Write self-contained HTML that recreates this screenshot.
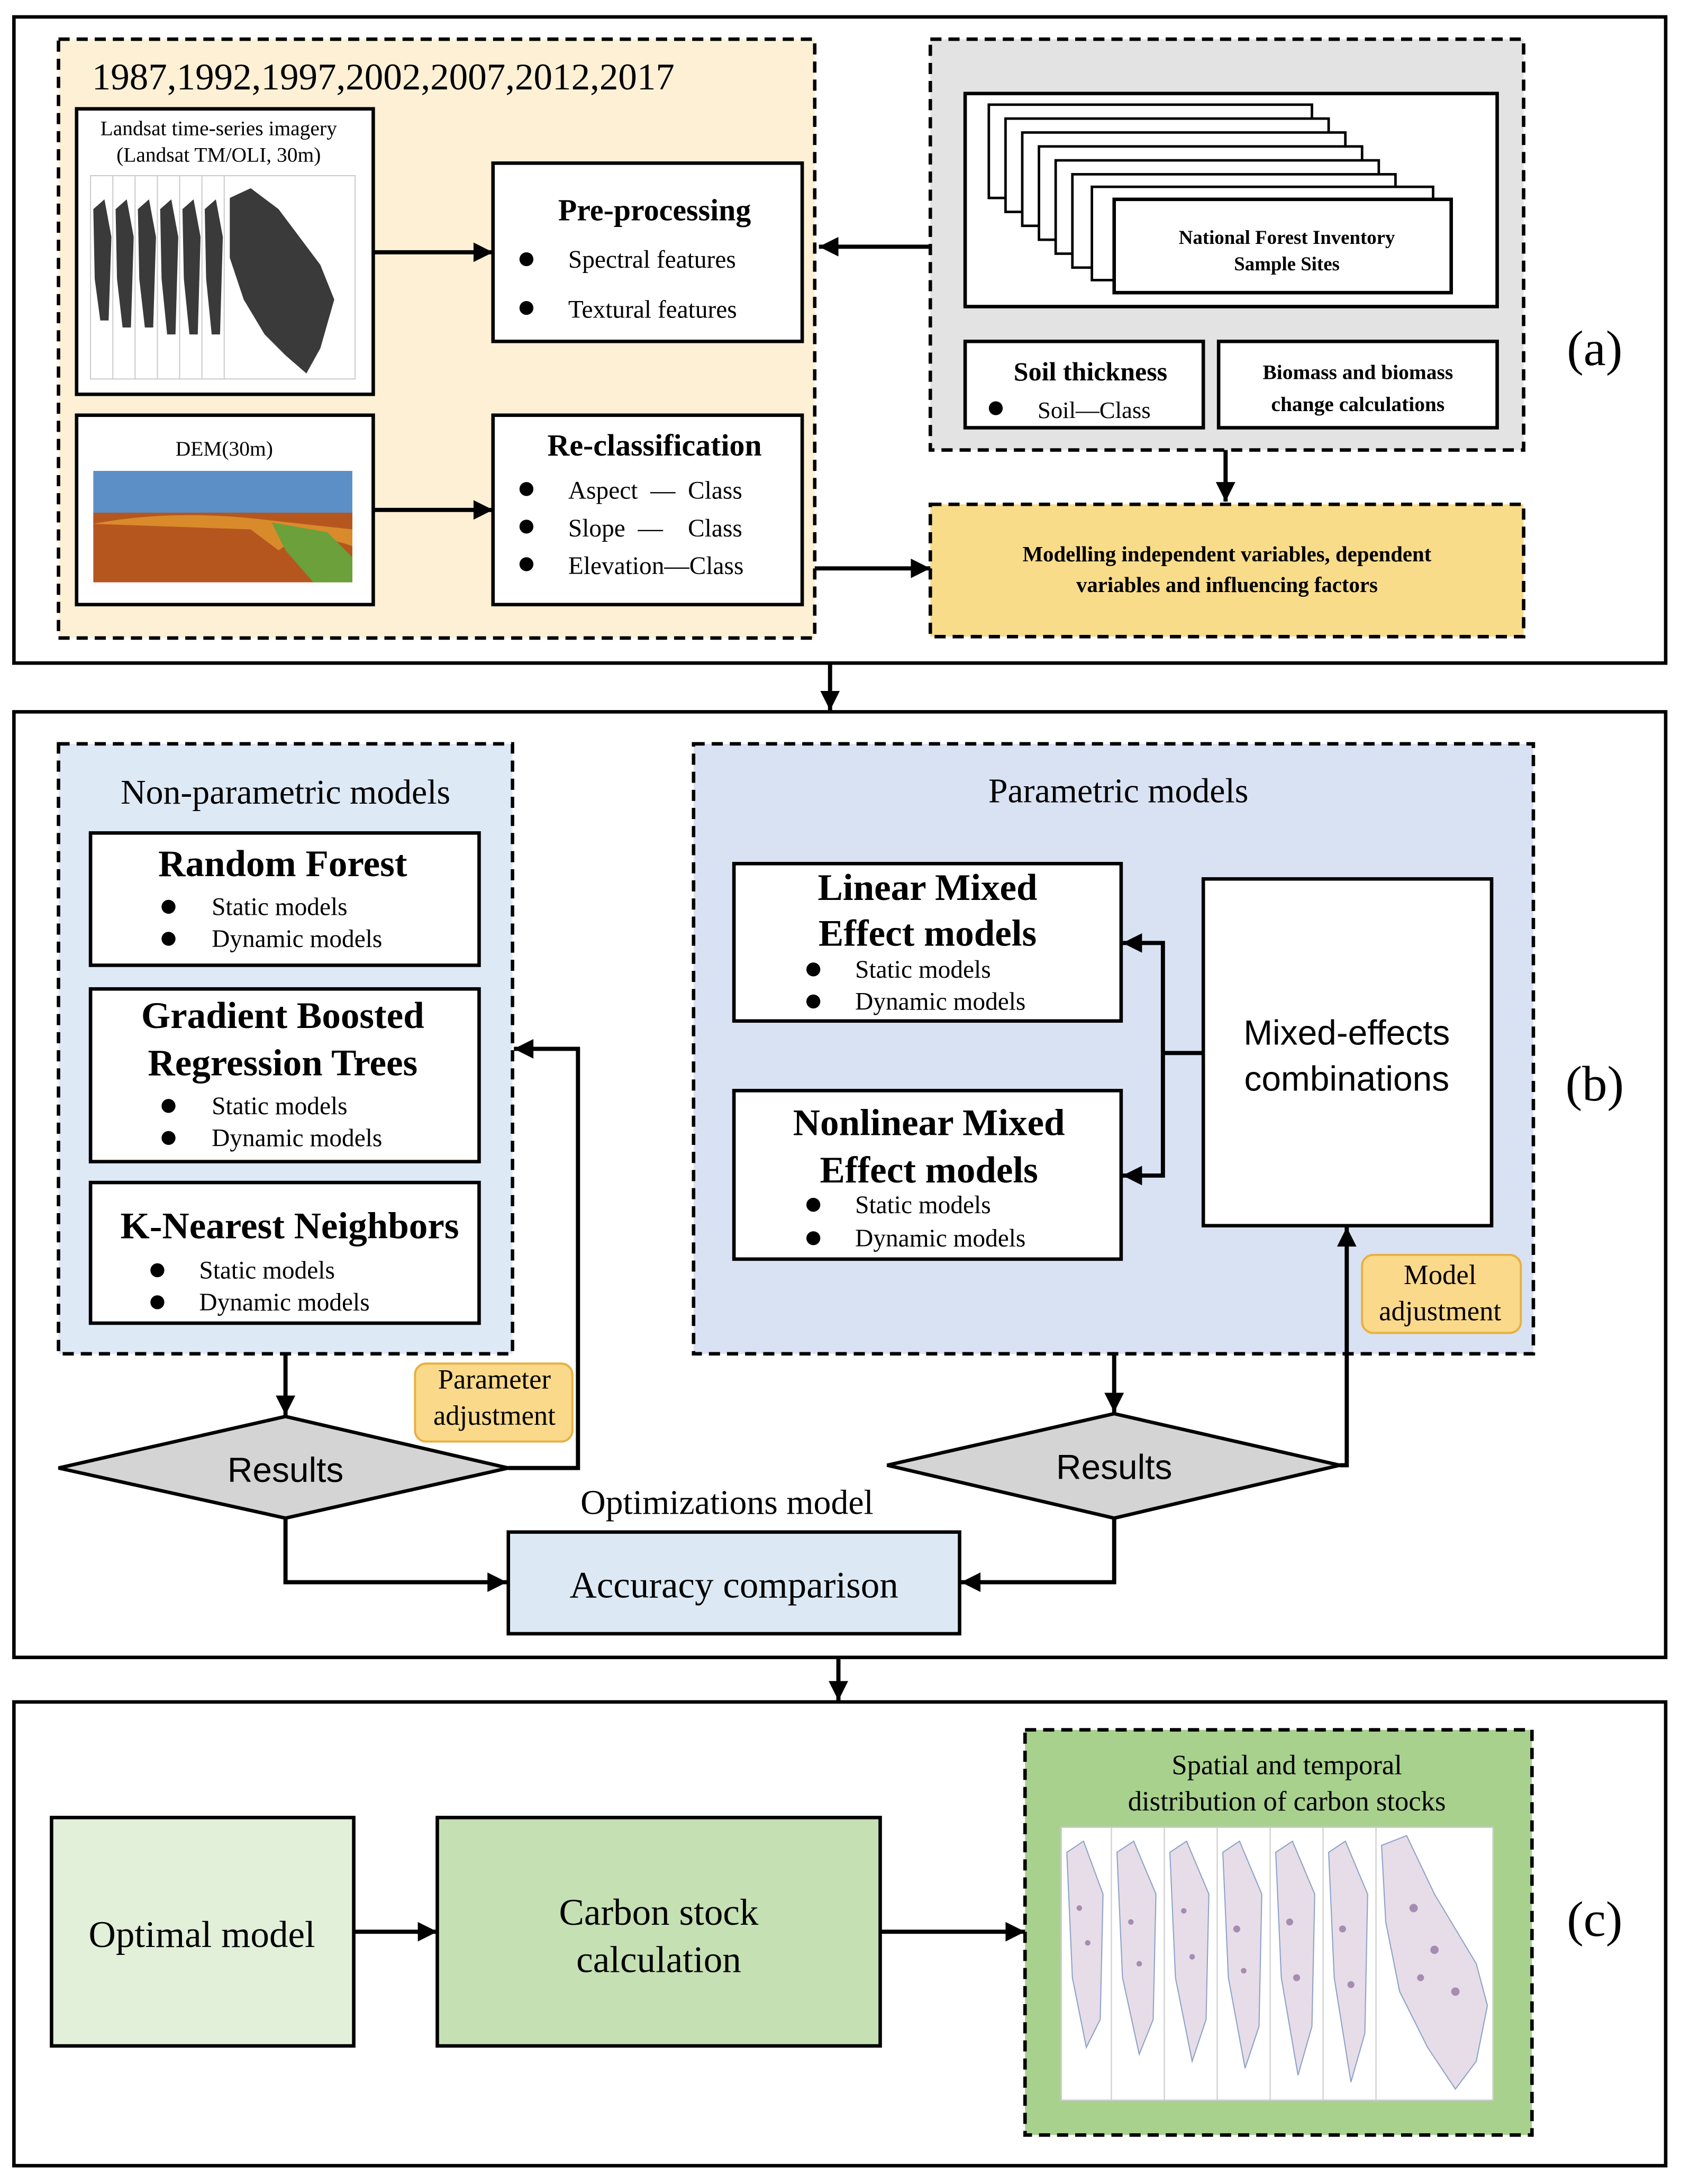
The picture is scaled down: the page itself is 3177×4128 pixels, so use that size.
<!DOCTYPE html>
<html><head><meta charset="utf-8"><style>html,body{margin:0;padding:0;background:#fff}svg{display:block}svg text{font-family:"Liberation Serif","DejaVu Serif",serif}svg text.s{font-family:"Liberation Sans","DejaVu Sans",sans-serif}</style></head>
<body>
<svg xmlns="http://www.w3.org/2000/svg" width="3177" height="4128" viewBox="0 0 1207 1568">
<defs>
<marker id="a2" viewBox="0 0 10 10" refX="10" refY="5" markerWidth="16" markerHeight="14" orient="auto" markerUnits="userSpaceOnUse"><path d="M0,0 L10,5 L0,10 z" fill="#000"/></marker>
</defs>
<rect width="1207" height="1568" fill="#fff"/>
<g stroke="#000" stroke-width="2.5" fill="none">
<rect x="10" y="12" width="1186" height="464"/>
<rect x="10" y="511" width="1186" height="679"/>
<rect x="10" y="1222" width="1186" height="333"/>
</g>
<!-- (a) -->
<rect x="42" y="28" width="543" height="430" fill="#fdf0d5" stroke="#000" stroke-width="2.5" stroke-dasharray="8,5"/>
<text x="66" y="64" font-size="27">1987,1992,1997,2002,2007,2012,2017</text>
<rect x="55" y="78" width="213" height="205" fill="#fff" stroke="#000" stroke-width="2.5"/>
<text x="157" y="97" font-size="15" text-anchor="middle">Landsat time-series imagery</text>
<text x="157" y="116" font-size="15" text-anchor="middle">(Landsat TM/OLI, 30m)</text>
<g stroke="#ccc" stroke-width="0.8" fill="#fff">
<rect x="65" y="126" width="190" height="146"/>
<line x1="81" y1="126" x2="81" y2="272"/><line x1="97" y1="126" x2="97" y2="272"/><line x1="113" y1="126" x2="113" y2="272"/><line x1="129" y1="126" x2="129" y2="272"/><line x1="145" y1="126" x2="145" y2="272"/><line x1="161" y1="126" x2="161" y2="272"/>
</g>
<g fill="#3a3a3a">
<path d="M67,150 L75,143 L80,170 L78,230 L72,230 L68,200 z"/>
<path d="M83,150 L91,143 L96,170 L94,235 L88,235 L84,200 z"/>
<path d="M99,150 L107,143 L112,170 L110,235 L104,235 L100,200 z"/>
<path d="M115,150 L123,143 L128,170 L126,240 L120,240 L116,200 z"/>
<path d="M131,150 L139,143 L144,170 L142,240 L136,240 L132,200 z"/>
<path d="M147,150 L155,143 L160,170 L158,240 L152,240 L148,200 z"/>
<path d="M165,142 L180,135 L200,150 L230,190 L240,215 L230,250 L220,268 L205,255 L190,240 L175,215 L165,185 z"/>
</g>
<rect x="354" y="117" width="222" height="128" fill="#fff" stroke="#000" stroke-width="2.5"/>
<text x="470" y="158" font-size="22" font-weight="bold" text-anchor="middle">Pre-processing</text>
<circle cx="378" cy="186" r="5"/><text x="408" y="192" font-size="18">Spectral features</text>
<circle cx="378" cy="221" r="5"/><text x="408" y="228" font-size="18">Textural features</text>
<rect x="55" y="298" width="213" height="136" fill="#fff" stroke="#000" stroke-width="2.5"/>
<text x="161" y="327" font-size="15" text-anchor="middle">DEM(30m)</text>
<rect x="67" y="338" width="186" height="42" fill="#5b8fc6"/>
<rect x="67" y="368" width="186" height="50" fill="#b6561f"/>
<path d="M67,376 Q120,366 180,372 L253,380 L253,392 Q220,380 200,395 L180,380 z" fill="#d98b2c"/>
<path d="M195,375 L235,382 L253,400 L253,418 L225,418 L205,395 z" fill="#6ba03a"/>
<rect x="354" y="298" width="222" height="136" fill="#fff" stroke="#000" stroke-width="2.5"/>
<text x="470" y="327" font-size="22" font-weight="bold" text-anchor="middle">Re-classification</text>
<circle cx="378" cy="351" r="5"/><text x="408" y="358" font-size="18" xml:space="preserve">Aspect  —  Class</text>
<circle cx="378" cy="378" r="5"/><text x="408" y="385" font-size="18" xml:space="preserve">Slope  —    Class</text>
<circle cx="378" cy="405" r="5"/><text x="408" y="412" font-size="18">Elevation—Class</text>
<rect x="668" y="28" width="426" height="295" fill="#e3e3e3" stroke="#000" stroke-width="2.5" stroke-dasharray="8,5"/>
<rect x="693" y="67" width="382" height="153" fill="#fff" stroke="#000" stroke-width="2.5"/>
<g fill="#fff" stroke="#000" stroke-width="1.8">
<rect x="710" y="75" width="232" height="67"/>
<rect x="722" y="85" width="232" height="67"/>
<rect x="734" y="95" width="232" height="67"/>
<rect x="746" y="105" width="232" height="67"/>
<rect x="758" y="115" width="232" height="67"/>
<rect x="770" y="125" width="232" height="67"/>
<rect x="784" y="134" width="245" height="67"/>
<rect x="800" y="143" width="242" height="67" stroke-width="2.5"/>
</g>
<text x="924" y="175" font-size="14" font-weight="bold" text-anchor="middle">National Forest Inventory</text>
<text x="924" y="194" font-size="14" font-weight="bold" text-anchor="middle">Sample Sites</text>
<rect x="693" y="245" width="171" height="62" fill="#fff" stroke="#000" stroke-width="2.5"/>
<text x="783" y="273" font-size="19" font-weight="bold" text-anchor="middle">Soil thickness</text>
<circle cx="715" cy="293" r="5"/><text x="745" y="300" font-size="17">Soil—Class</text>
<rect x="875" y="245" width="200" height="62" fill="#fff" stroke="#000" stroke-width="2.5"/>
<text x="975" y="272" font-size="15" font-weight="bold" text-anchor="middle">Biomass and biomass</text>
<text x="975" y="295" font-size="15" font-weight="bold" text-anchor="middle">change calculations</text>
<rect x="668" y="362" width="426" height="95" fill="#f9dc8a" stroke="#000" stroke-width="2.5" stroke-dasharray="8,5"/>
<text x="881" y="403" font-size="15.5" font-weight="bold" text-anchor="middle">Modelling independent variables, dependent</text>
<text x="881" y="425" font-size="15.5" font-weight="bold" text-anchor="middle">variables and influencing factors</text>
<text x="1145" y="262" font-size="36" text-anchor="middle">(a)</text>
<g stroke="#000" stroke-width="3" fill="none" marker-end="url(#a2)">
<line x1="268" y1="181" x2="354" y2="181"/>
<line x1="268" y1="366" x2="354" y2="366"/>
<line x1="668" y1="177" x2="588" y2="177"/>
<line x1="880" y1="323" x2="880" y2="360"/>
<line x1="585" y1="408" x2="668" y2="408"/>
<line x1="596" y1="476" x2="596" y2="510"/>
<line x1="602" y1="1190" x2="602" y2="1221"/>
</g>
<!-- (b) -->
<rect x="42" y="534" width="326" height="438" fill="#dde9f5" stroke="#000" stroke-width="2.5" stroke-dasharray="8,5"/>
<text x="205" y="577" font-size="25" text-anchor="middle">Non-parametric models</text>
<rect x="65" y="598" width="279" height="95" fill="#fff" stroke="#000" stroke-width="2.5"/>
<text x="203" y="629" font-size="27" font-weight="bold" text-anchor="middle">Random Forest</text>
<circle cx="121" cy="651" r="5"/><text x="152" y="657" font-size="18">Static models</text>
<circle cx="121" cy="674" r="5"/><text x="152" y="680" font-size="18">Dynamic models</text>
<rect x="65" y="710" width="279" height="124" fill="#fff" stroke="#000" stroke-width="2.5"/>
<text x="203" y="738" font-size="27" font-weight="bold" text-anchor="middle">Gradient Boosted</text>
<text x="203" y="772" font-size="27" font-weight="bold" text-anchor="middle">Regression Trees</text>
<circle cx="121" cy="794" r="5"/><text x="152" y="800" font-size="18">Static models</text>
<circle cx="121" cy="817" r="5"/><text x="152" y="823" font-size="18">Dynamic models</text>
<rect x="65" y="849" width="279" height="101" fill="#fff" stroke="#000" stroke-width="2.5"/>
<text x="208" y="889" font-size="27" font-weight="bold" text-anchor="middle">K-Nearest Neighbors</text>
<circle cx="113" cy="912" r="5"/><text x="143" y="918" font-size="18">Static models</text>
<circle cx="113" cy="935" r="5"/><text x="143" y="941" font-size="18">Dynamic models</text>
<rect x="498" y="534" width="603" height="438" fill="#d9e2f2" stroke="#000" stroke-width="2.5" stroke-dasharray="8,5"/>
<text x="803" y="576" font-size="25" text-anchor="middle">Parametric models</text>
<rect x="527" y="620" width="278" height="113" fill="#fff" stroke="#000" stroke-width="2.5"/>
<text x="666" y="646" font-size="27" font-weight="bold" text-anchor="middle">Linear Mixed</text>
<text x="666" y="679" font-size="27" font-weight="bold" text-anchor="middle">Effect models</text>
<circle cx="584" cy="696" r="5"/><text x="614" y="702" font-size="18">Static models</text>
<circle cx="584" cy="719" r="5"/><text x="614" y="725" font-size="18">Dynamic models</text>
<rect x="527" y="783" width="278" height="121" fill="#fff" stroke="#000" stroke-width="2.5"/>
<text x="667" y="815" font-size="27" font-weight="bold" text-anchor="middle">Nonlinear Mixed</text>
<text x="667" y="849" font-size="27" font-weight="bold" text-anchor="middle">Effect models</text>
<circle cx="584" cy="865" r="5"/><text x="614" y="871" font-size="18">Static models</text>
<circle cx="584" cy="889" r="5"/><text x="614" y="895" font-size="18">Dynamic models</text>
<rect x="864" y="631" width="207" height="249" fill="#fff" stroke="#000" stroke-width="2.5"/>
<text class="s" x="967" y="750" font-size="25" text-anchor="middle">Mixed-effects</text>
<text class="s" x="967" y="783" font-size="25" text-anchor="middle">combinations</text>
<rect x="978" y="901" width="114" height="56" rx="8" fill="#fbd98a" stroke="#e8b040" stroke-width="1.5"/>
<text x="1034" y="922" font-size="20" text-anchor="middle">Model</text>
<text x="1034" y="948" font-size="20" text-anchor="middle">adjustment</text>
<rect x="298" y="979" width="113" height="56" rx="8" fill="#fbd98a" stroke="#e8b040" stroke-width="1.5"/>
<text x="355" y="997" font-size="20" text-anchor="middle">Parameter</text>
<text x="355" y="1023" font-size="20" text-anchor="middle">adjustment</text>
<polygon points="42,1054 205,1017 365,1054 205,1090" fill="#d4d4d4" stroke="#000" stroke-width="2.5"/>
<text class="s" x="205" y="1064" font-size="25" text-anchor="middle">Results</text>
<polygon points="637,1052 800,1015 962,1052 800,1090" fill="#d4d4d4" stroke="#000" stroke-width="2.5"/>
<text class="s" x="800" y="1062" font-size="25" text-anchor="middle">Results</text>
<text x="522" y="1087" font-size="25" text-anchor="middle">Optimizations model</text>
<rect x="365" y="1100" width="324" height="73" fill="#dce9f5" stroke="#000" stroke-width="2.5"/>
<text x="527" y="1147" font-size="27" text-anchor="middle">Accuracy comparison</text>
<text x="1145" y="790" font-size="36" text-anchor="middle">(b)</text>
<g stroke="#000" stroke-width="3" fill="none" marker-end="url(#a2)">
<line x1="864" y1="756" x2="835" y2="756" marker-end="none"/>
<polyline points="835,756 835,677 806,677"/>
<polyline points="835,756 835,844 806,844"/>
<polyline points="365,1054 415,1054 415,753 369,753"/>
<line x1="205" y1="972" x2="205" y2="1016"/>
<line x1="800" y1="972" x2="800" y2="1014"/>
<polyline points="962,1052 967,1052 967,881"/>
<polyline points="205,1090 205,1136 364,1136"/>
<polyline points="800,1090 800,1136 690,1136"/>
</g>
<!-- (c) -->
<rect x="37" y="1305" width="217" height="164" fill="#e2efd9" stroke="#000" stroke-width="2.5"/>
<text x="145" y="1398" font-size="27" text-anchor="middle">Optimal model</text>
<rect x="314" y="1305" width="318" height="164" fill="#c5e0b3" stroke="#000" stroke-width="2.5"/>
<text x="473" y="1382" font-size="27" text-anchor="middle">Carbon stock</text>
<text x="473" y="1416" font-size="27" text-anchor="middle">calculation</text>
<rect x="736" y="1242" width="364" height="291" fill="#a9d18e" stroke="#000" stroke-width="2.5" stroke-dasharray="8,5"/>
<text x="924" y="1274" font-size="20" text-anchor="middle">Spatial and temporal</text>
<text x="924" y="1300" font-size="20" text-anchor="middle">distribution of carbon stocks</text>
<rect x="762" y="1312" width="310" height="196" fill="#fff" stroke="#ccc"/>
<g stroke="#ccc" stroke-width="0.8"><line x1="798" y1="1312" x2="798" y2="1508"/><line x1="836" y1="1312" x2="836" y2="1508"/><line x1="874" y1="1312" x2="874" y2="1508"/><line x1="912" y1="1312" x2="912" y2="1508"/><line x1="950" y1="1312" x2="950" y2="1508"/><line x1="988" y1="1312" x2="988" y2="1508"/></g>
<g fill="#e6dde8" stroke="#8fa3c8" stroke-width="0.8">
<path d="M766,1330 L778,1322 L792,1360 L790,1450 L780,1470 L770,1420 z"/>
<path d="M802,1330 L814,1322 L830,1360 L828,1450 L818,1475 L806,1420 z"/>
<path d="M840,1330 L852,1322 L868,1360 L866,1450 L856,1480 L844,1420 z"/>
<path d="M878,1330 L890,1322 L906,1360 L904,1455 L894,1485 L882,1420 z"/>
<path d="M916,1330 L928,1322 L944,1360 L942,1455 L932,1490 L920,1420 z"/>
<path d="M954,1330 L966,1322 L982,1360 L980,1460 L970,1495 L958,1420 z"/>
<path d="M992,1325 L1010,1318 L1030,1360 L1060,1410 L1068,1440 L1060,1480 L1045,1500 L1025,1470 L1005,1430 L995,1380 z"/>
</g>
<g fill="#8a6a9a" opacity="0.7">
<circle cx="775" cy="1370" r="2"/><circle cx="781" cy="1395" r="2"/><circle cx="812" cy="1380" r="2"/><circle cx="818" cy="1410" r="2"/><circle cx="850" cy="1372" r="2"/><circle cx="856" cy="1405" r="2"/><circle cx="888" cy="1385" r="2.5"/><circle cx="893" cy="1415" r="2"/><circle cx="926" cy="1380" r="2.5"/><circle cx="931" cy="1420" r="2.5"/><circle cx="964" cy="1385" r="2.5"/><circle cx="970" cy="1425" r="2.5"/><circle cx="1015" cy="1370" r="3"/><circle cx="1030" cy="1400" r="3"/><circle cx="1045" cy="1430" r="3"/><circle cx="1020" cy="1420" r="2.5"/>
</g>
<text x="1145" y="1390" font-size="36" text-anchor="middle">(c)</text>
<g stroke="#000" stroke-width="3" fill="none" marker-end="url(#a2)">
<line x1="254" y1="1387" x2="314" y2="1387"/>
<line x1="632" y1="1387" x2="736" y2="1387"/>
</g>
</svg>
</body></html>
